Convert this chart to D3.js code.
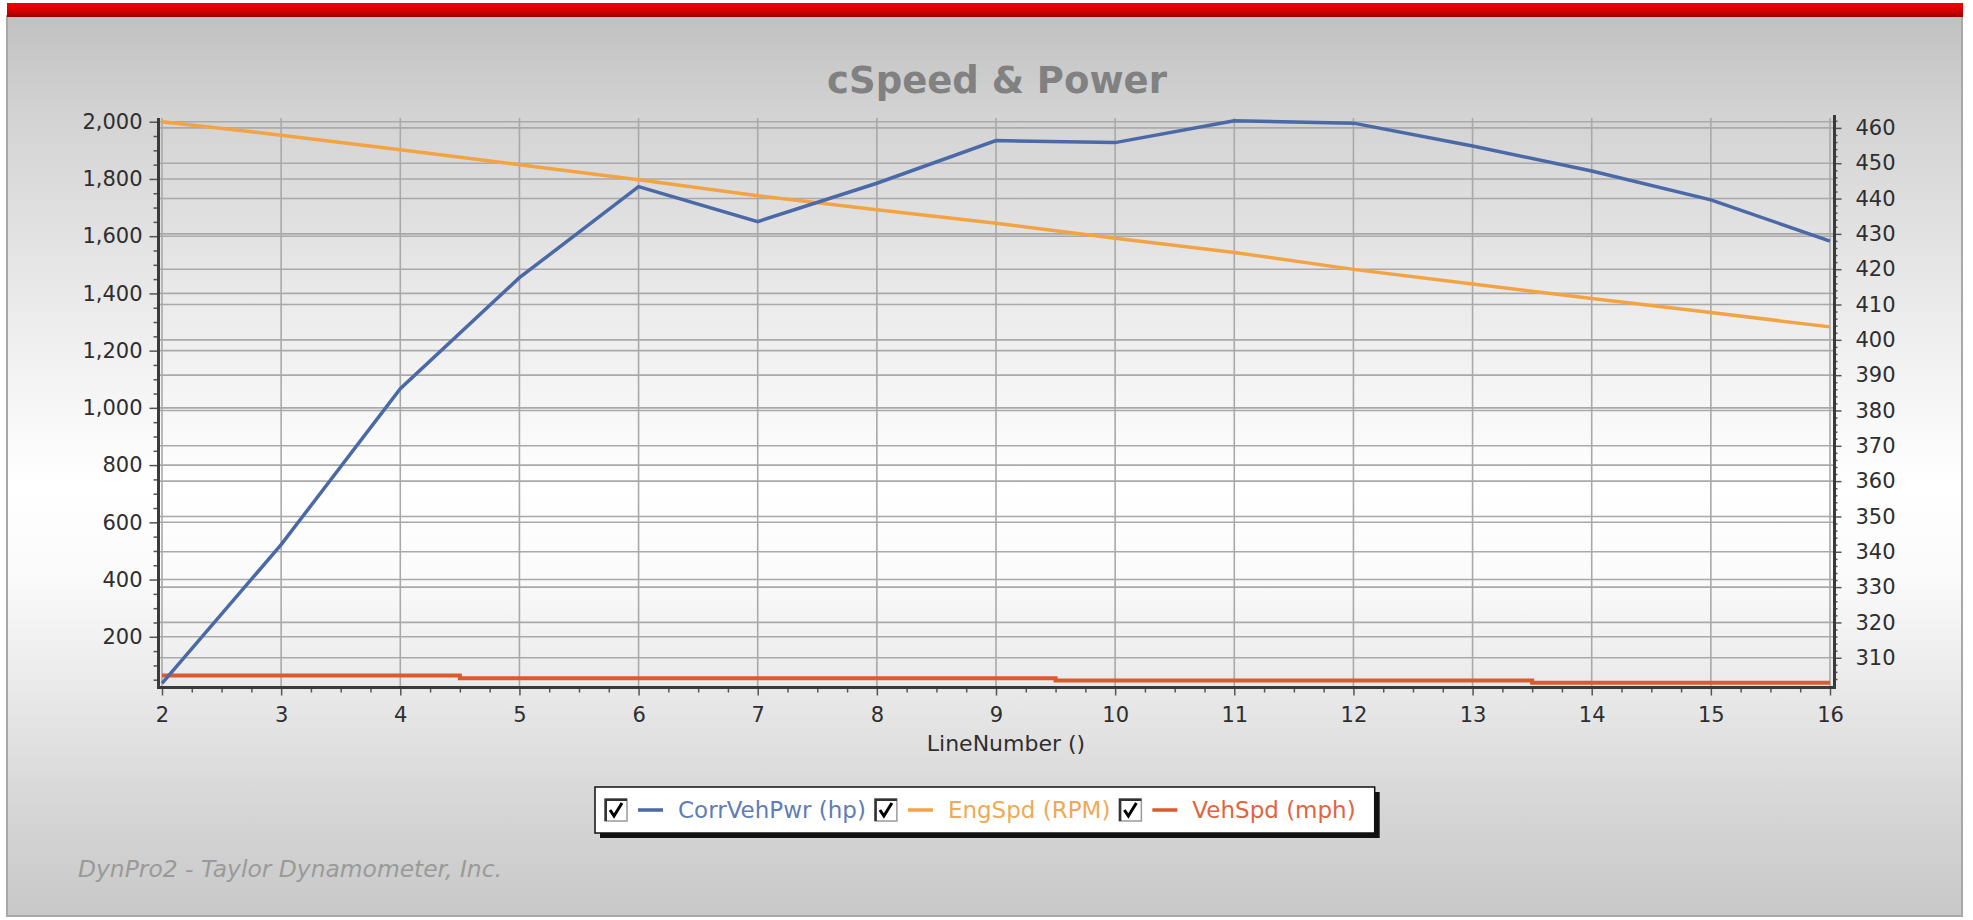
<!DOCTYPE html>
<html><head><meta charset="utf-8">
<script src="https://cdn.jsdelivr.net/npm/d3@7"></script>
<style>html,body{margin:0;padding:0;background:#fff;overflow:hidden;} svg{display:block;}</style>
</head><body><svg id="c" width="1973" height="920"></svg>
<script>
// ---- data ----
const lineNumbers = [2, 3, 4, 5, 6, 7, 8, 9, 10, 11, 12, 13, 14, 15, 16];
const corrVehPwr  = [37, 522, 1067, 1455, 1773, 1651, 1785, 1934, 1927, 2003, 1995, 1915, 1828, 1727, 1583];
const engSpd      = [2000, 1953, 1902, 1850, 1797, 1741, 1692, 1645, 1593, 1543, 1484, 1433, 1382, 1333, 1283];
const vehSpd      = [65, 65, 65, 55, 55, 55, 55, 55, 47, 47, 47, 47, 39, 39, 39];
const leftTicks   = [200, 400, 600, 800, 1000, 1200, 1400, 1600, 1800, 2000];
const rightTicks  = [310, 320, 330, 340, 350, 360, 370, 380, 390, 400, 410, 420, 430, 440, 450, 460];
const xTicks      = [2, 3, 4, 5, 6, 7, 8, 9, 10, 11, 12, 13, 14, 15, 16];
const seriesNames = ["CorrVehPwr (hp)", "EngSpd (RPM)", "VehSpd (mph)"];
const seriesColors = ["#4a69a6", "#f2a444", "#dc5a2c"];
const legendTextColors = ["#5f7db6", "#efaa55", "#df653e"];
const titleText = "cSpeed & Power";
const xTitle = "LineNumber ()";
const footerText = "DynPro2 - Taylor Dynamometer, Inc.";

const svg = d3.select("#c");
const plot = {left: 160, right: 1833, top: 118, bottom: 686};

// ---- defs ----
const defs = svg.append("defs");
const pg = defs.append("linearGradient").attr("id", "panelGrad").attr("x1", 0).attr("y1", 0).attr("x2", 0).attr("y2", 1);
[[0, "#c1c1c1"], [0.11, "#d3d3d3"], [0.35, "#eeeeee"], [0.52, "#ffffff"], [0.62, "#fbfbfb"], [0.75, "#e9e9e9"], [0.88, "#d6d6d6"], [1, "#c8c8c8"]]
  .forEach(([o, c]) => pg.append("stop").attr("offset", o).attr("stop-color", c));
const rg = defs.append("linearGradient").attr("id", "redGrad").attr("x1", 0).attr("y1", 0).attr("x2", 0).attr("y2", 1);
[[0, "#f20000"], [0.5, "#dd0000"], [1, "#9a0000"]].forEach(([o, c]) => rg.append("stop").attr("offset", o).attr("stop-color", c));

// ---- panel ----
svg.append("rect").attr("x", 7).attr("y", 16).attr("width", 1955).attr("height", 900)
  .attr("fill", "url(#panelGrad)").attr("stroke", "#a8a8a8").attr("stroke-width", 2);
svg.append("rect").attr("x", 7).attr("y", 3).attr("width", 1956).attr("height", 14).attr("fill", "url(#redGrad)");

// ---- scales ----
const x = d3.scaleLinear().domain([2, 16]).range([162, 1830]);
const yL = d3.scaleLinear().domain([28, 2013]).range([plot.bottom, plot.top]);
const yR = d3.scaleLinear().domain([302, 462.8]).range([plot.bottom, plot.top]);

// ---- grid ----
const grid = svg.append("g").attr("stroke", "#a9a9a9").attr("stroke-width", 1.6);
xTicks.forEach(t => grid.append("line").attr("x1", x(t)).attr("x2", x(t)).attr("y1", plot.top).attr("y2", plot.bottom));
leftTicks.forEach(t => grid.append("line").attr("x1", plot.left).attr("x2", plot.right).attr("y1", yL(t)).attr("y2", yL(t)));
rightTicks.forEach(t => grid.append("line").attr("x1", plot.left).attr("x2", plot.right).attr("y1", yR(t)).attr("y2", yR(t)));

// ---- series ----
const pts = vals => lineNumbers.map((n, i) => [n, vals[i]]);
const lineGen = d3.line().x(d => x(d[0])).y(d => yL(d[1]));
const stepGen = d3.line().x(d => x(d[0])).y(d => yL(d[1])).curve(d3.curveStep);
svg.append("path").attr("d", stepGen(pts(vehSpd))).attr("fill", "none").attr("stroke", seriesColors[2]).attr("stroke-width", 4);
svg.append("path").attr("d", lineGen(pts(engSpd))).attr("fill", "none").attr("stroke", seriesColors[1]).attr("stroke-width", 3.5);
svg.append("path").attr("d", lineGen(pts(corrVehPwr))).attr("fill", "none").attr("stroke", seriesColors[0]).attr("stroke-width", 3.5);

// ---- axes ----
const tickFont = "'DejaVu Sans', Verdana, sans-serif";
function styleAxis(g) {
  g.select(".domain").remove();
  g.selectAll(".tick line").attr("stroke", "#555").attr("stroke-width", 1.5);
  g.selectAll("text").attr("fill", "#2e2e2e").style("font-family", tickFont).style("font-size", "21px");
}
const leftMinor = d3.range(50, 2001, 50).filter(v => v % 200 !== 0 && v >= 28);
svg.append("g").attr("transform", `translate(158.5,0)`)
  .call(d3.axisLeft(yL).tickValues(leftMinor).tickSize(5).tickFormat("")).call(styleAxis);
svg.append("g").attr("transform", `translate(158.5,0)`)
  .call(d3.axisLeft(yL).tickValues(leftTicks).tickSize(9).tickPadding(7).tickFormat(d3.format(","))).call(styleAxis);
const rightMinor = d3.range(304, 463, 2).filter(v => v % 10 !== 0);
svg.append("g").attr("transform", `translate(1834.5,0)`)
  .call(d3.axisRight(yR).tickValues(rightMinor).tickSize(3).tickFormat("")).call(styleAxis);
svg.append("g").attr("transform", `translate(1834.5,0)`)
  .call(d3.axisRight(yR).tickValues(rightTicks).tickSize(7).tickPadding(14).tickFormat(d3.format("d"))).call(styleAxis);
const xMinor = d3.range(2, 16.01, 0.25).filter(v => v % 1 !== 0);
svg.append("g").attr("transform", `translate(0,687.5)`)
  .call(d3.axisBottom(x).tickValues(xMinor).tickSize(5).tickFormat("")).call(styleAxis);
svg.append("g").attr("transform", `translate(0,687.5)`)
  .call(d3.axisBottom(x).tickValues(xTicks).tickSize(8).tickPadding(12).tickFormat(d3.format("d"))).call(styleAxis);
const al = svg.append("g").attr("stroke", "#3a3a3a").attr("stroke-width", 3);
al.append("line").attr("x1", 158.5).attr("x2", 158.5).attr("y1", plot.top).attr("y2", 689);
al.append("line").attr("x1", 1834.5).attr("x2", 1834.5).attr("y1", plot.top - 3).attr("y2", 689);
al.append("line").attr("x1", 157).attr("x2", 1836).attr("y1", 687.5).attr("y2", 687.5);

// ---- texts ----
svg.append("text").attr("x", 997).attr("y", 93).attr("text-anchor", "middle")
  .style("font-family", tickFont).style("font-weight", "bold").style("font-size", "37px")
  .attr("fill", "#818181").text(titleText);
svg.append("text").attr("x", 1006).attr("y", 751).attr("text-anchor", "middle")
  .style("font-family", tickFont).style("font-size", "22px").attr("fill", "#2e2e2e").text(xTitle);
svg.append("text").attr("x", 78).attr("y", 877)
  .style("font-family", tickFont).style("font-style", "italic").style("font-size", "23.4px")
  .attr("fill", "#9a9a9a").text(footerText);

// ---- legend ----
const lg = svg.append("g");
const shadow = lg.append("rect").attr("fill", "#111");
const box = lg.append("rect").attr("fill", "#fff").attr("stroke", "#111").attr("stroke-width", 1.5);
const legY = 787, legH = 46, cy = legY + legH / 2;
let cx = 605;
seriesNames.forEach((name, i) => {
  const cb = lg.append("g");
  cb.append("rect").attr("x", cx).attr("y", cy - 11).attr("width", 22).attr("height", 22)
    .attr("fill", "#fff").attr("stroke", "#9a9a9a").attr("stroke-width", 1.5);
  cb.append("path").attr("d", `M${cx + 0.75},${cy + 11} V${cy - 10.25} H${cx + 22}`)
    .attr("fill", "none").attr("stroke", "#333").attr("stroke-width", 2.5);
  cb.append("path").attr("d", `M${cx + 5},${cy} L${cx + 9},${cy + 6} L${cx + 17},${cy - 7}`)
    .attr("fill", "none").attr("stroke", "#000").attr("stroke-width", 3);
  cx += 33;
  lg.append("line").attr("x1", cx).attr("x2", cx + 25).attr("y1", cy).attr("y2", cy)
    .attr("stroke", seriesColors[i]).attr("stroke-width", 3.5);
  cx += 40;
  const t = lg.append("text").attr("x", cx).attr("y", cy + 8)
    .style("font-family", tickFont).style("font-size", "23px").attr("fill", legendTextColors[i]).text(name);
  cx += t.node().getComputedTextLength() + 9;
});
const legW = cx - 595 + 10;
box.attr("x", 595).attr("y", legY).attr("width", legW).attr("height", legH);
shadow.attr("x", 600).attr("y", legY + 5).attr("width", legW).attr("height", legH);
</script>
</body></html>
